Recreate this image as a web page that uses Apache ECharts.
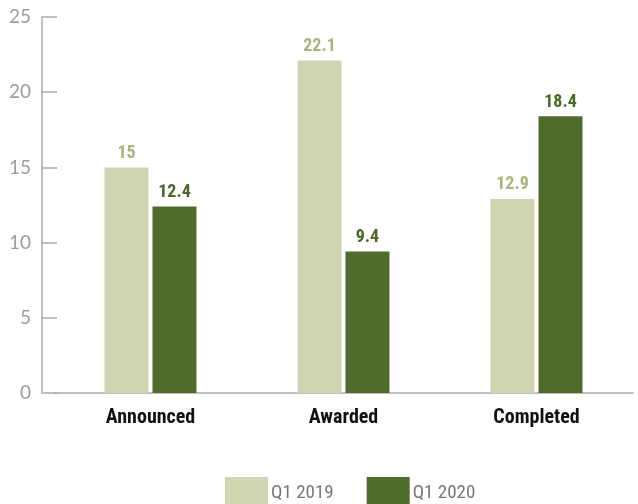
<!DOCTYPE html>
<html><head><meta charset="utf-8">
<script src="https://cdn.jsdelivr.net/npm/echarts@6/dist/echarts.min.js"></script>
<style>html,body{margin:0;padding:0;background:#fff}#c{width:638px;height:504px}</style>
</head><body><div id="c"></div>
<script>
const categories = ['Announced', 'Awarded', 'Completed'];
const q12019 = [15, 22.1, 12.9];
const q12020 = [12.4, 9.4, 18.4];
const yTicks = [0, 5, 10, 15, 20, 25];

const chart = echarts.init(document.getElementById('c'));
const condensed = '"Liberation Sans Narrow", "Roboto Condensed", "DejaVu Sans Condensed", sans-serif';
chart.setOption({
  animation: false,
  grid: { left: 54, right: 5, top: 17, bottom: 111 },
  legend: {
    top: 472, left: 220, itemWidth: 43, itemHeight: 32, itemGap: 33,
    icon: 'rect',
    textStyle: { color: '#777', fontSize: 19, fontFamily: condensed, padding: [14, 0, 0, -2] },
    data: ['Q1 2019', 'Q1 2020']
  },
  xAxis: {
    type: 'category', data: categories,
    axisLine: { lineStyle: { color: '#aaa', width: 1.5 } },
    axisTick: { show: false },
    axisLabel: { color: '#111', fontWeight: 'bold', fontSize: 20, fontFamily: condensed, margin: 15 }
  },
  yAxis: {
    type: 'value', min: 0, max: 25, interval: 5, offset: 12,
    splitLine: { show: false },
    axisLine: { show: true, lineStyle: { color: '#aaa', width: 1.5 } },
    axisTick: { show: true, inside: true, length: 15, lineStyle: { color: '#aaa', width: 1.5 } },
    axisLabel: { color: '#9c9c9c', fontSize: 19, fontFamily: 'Lato, sans-serif', margin: 11,
      formatter: v => yTicks.includes(v) ? String(v) : '' }
  },
  series: [
    { name: 'Q1 2019', type: 'bar', data: q12019, barWidth: 44, barGap: '9%',
      itemStyle: { color: '#cfd5b1' },
      label: { show: true, position: 'top', distance: 5, color: '#a9b47c', fontWeight: 'bold', fontSize: 18, fontFamily: condensed } },
    { name: 'Q1 2020', type: 'bar', data: q12020, barWidth: 44,
      itemStyle: { color: '#506c2c' },
      label: { show: true, position: 'top', distance: 5, color: '#4c6828', fontWeight: 'bold', fontSize: 18, fontFamily: condensed } }
  ]
});
</script></body></html>
